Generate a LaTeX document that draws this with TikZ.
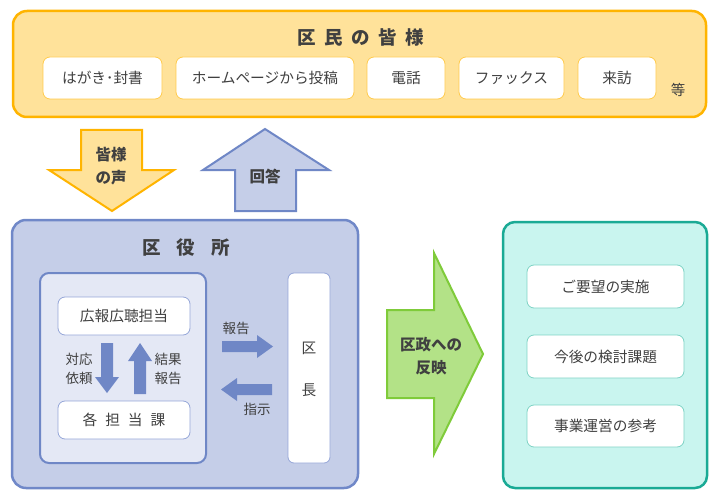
\documentclass[tikz,border=0pt]{standalone}
\usepackage{fontspec}
\setmainfont{Noto Sans CJK JP}
\usetikzlibrary{positioning}
\definecolor{txt}{HTML}{404040}
\definecolor{orB}{HTML}{FFB400}
\definecolor{orF}{HTML}{FFE29A}
\definecolor{bluB}{HTML}{7088C8}
\definecolor{bluF}{HTML}{C5CEE8}
\definecolor{bluI}{HTML}{E4E8F5}
\definecolor{bluA}{HTML}{6F87C6}
\definecolor{bluS}{HTML}{95A6D8}
\definecolor{grnF}{HTML}{B3E287}
\definecolor{grnB}{HTML}{7FCB3A}
\definecolor{tlF}{HTML}{C9F5EF}
\definecolor{tlB}{HTML}{1AAA95}
\definecolor{tlS}{HTML}{7ED3C5}
\tikzset{
  bigbox/.style={draw, line width=2.5pt, rounded corners=14pt},
  smallbox/.style={draw, line width=0.8pt, fill=white, rounded corners=7pt},
  lbl/.style={text=txt, font=\fontsize{14.7}{17}\selectfont, inner sep=0pt},
  ttl/.style={text=txt, font=\fontsize{18.5}{20}\selectfont\bfseries, inner sep=0pt},
  btxt/.style={text=txt, font=\fontsize{15.5}{22.5}\selectfont\bfseries, inner sep=0pt, align=center},
  slbl/.style={text=txt, font=\fontsize{13.5}{18.5}\selectfont, inner sep=0pt, align=center},
}
\begin{document}
\begin{tikzpicture}[x=1pt,y=-1pt]
\useasboundingbox[fill=white] (0,0) rectangle (720,500);
% --- residents box
\draw[bigbox, draw=orB, fill=orF] (13,11) rectangle (706,117);
\node[ttl] (t1) at (361,37) {区\kern8.5pt 民\kern8.5pt の\kern8.5pt 皆\kern8.5pt 様};
\draw[smallbox, draw=orB!70] (43,57) rectangle (162,99);
\node[lbl] (m1) at (102.5,78) {はがき･封書};
\draw[smallbox, draw=orB!70] (176,57) rectangle (354,99);
\node[lbl] (m2) at (265,78) {ホームページから投稿};
\draw[smallbox, draw=orB!70] (367,57) rectangle (445,99);
\node[lbl] (m3) at (406,78) {電話};
\draw[smallbox, draw=orB!70] (459,57) rectangle (564,99);
\node[lbl] (m4) at (511.5,78) {ファックス};
\draw[smallbox, draw=orB!70] (578,57) rectangle (656,99);
\node[lbl] (m5) at (617,78) {来訪};
\node[lbl, font=\fontsize{14.5}{16}\selectfont] (etc) at (678,90) {等};
% --- down arrow (voice)
\draw[draw=orB, fill=orF, line width=2pt, line join=miter]
  (81,130) -- (142,130) -- (142,170) -- (174,170) -- (112,211) -- (49,170) -- (81,170) -- cycle;
\node[btxt] (voice) at (111,166) {皆様\\の声};
% --- up arrow (answer)
\draw[draw=bluA, fill=bluF, line width=2pt, line join=miter]
  (265,129) -- (329,170) -- (296,170) -- (296,211) -- (235,211) -- (235,170) -- (203,170) -- cycle;
\node[btxt] (ans) at (265,177) {回答};
% --- ward office
\draw[bigbox, draw=bluB, fill=bluF] (12,220) rectangle (358,488);
\node[ttl] (t2) at (186,248) {区\kern16pt 役\kern16pt 所};
\draw[draw=bluA, fill=bluI, line width=2pt, rounded corners=9pt] (40,273) rectangle (206,463);
\draw[smallbox, draw=bluS] (58,297) rectangle (190,335);
\node[lbl] (pr) at (124,316) {広報広聴担当};
\draw[smallbox, draw=bluS] (58,401) rectangle (190,439);
\node[lbl] (dept) at (124,420) {各\kern8pt 担\kern8pt 当\kern8pt 課};
% down/up arrows inside
\fill[bluA] (101,343) -- (113,343) -- (113,377) -- (119,377) -- (107,393) -- (95,377) -- (101,377) -- cycle;
\fill[bluA] (134,394) -- (146,394) -- (146,361) -- (152,361) -- (140,343) -- (128,361) -- (134,361) -- cycle;
\node[slbl] (req) at (79,369) {対応\\依頼};
\node[slbl] (res) at (168,369) {結果\\報告};
% mayor
\draw[draw=bluS, fill=white, line width=0.8pt, rounded corners=6pt] (288,273) rectangle (330,463);
\node[lbl] (k1) at (309,348) {区};
\node[lbl] (k2) at (309,390) {長};
% report / instruction arrows
\fill[bluA] (222,341) -- (257,341) -- (257,335) -- (273,346.5) -- (257,358) -- (257,352) -- (222,352) -- cycle;
\node[slbl] (rep) at (236,328) {報告};
\fill[bluA] (272,384) -- (237,384) -- (237,378) -- (221,389.5) -- (237,401) -- (237,395) -- (272,395) -- cycle;
\node[slbl] (ins) at (257,409) {指示};
% --- green arrow
\draw[draw=grnB, fill=grnF, line width=2pt, line join=miter]
  (387,310) -- (434,310) -- (434,253) -- (483,354) -- (434,454) -- (434,398) -- (387,398) -- cycle;
\node[btxt] (refl) at (431,356) {区政への\\反映};
% --- results box
\draw[bigbox, draw=tlB, fill=tlF, rounded corners=12pt] (503,222) rectangle (707,488);
\draw[smallbox, draw=tlS] (527,265) rectangle (684,308);
\node[lbl] (r1) at (605.5,286.5) {ご要望の実施};
\draw[smallbox, draw=tlS] (527,335) rectangle (684,378);
\node[lbl] (r2) at (605.5,356.5) {今後の検討課題};
\draw[smallbox, draw=tlS] (527,405) rectangle (684,447);
\node[lbl] (r3) at (605.5,426) {事業運営の参考};
\end{tikzpicture}
\end{document}
